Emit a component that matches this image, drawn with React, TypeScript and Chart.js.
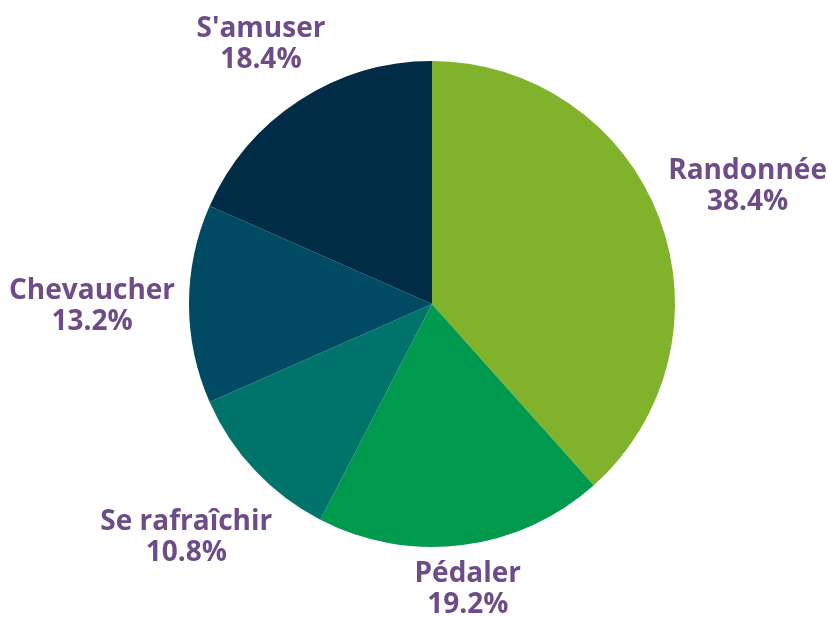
import React, { useEffect, useRef } from "react";
import { Chart, registerables } from "chart.js";

Chart.register(...registerables);

const categories = ["Randonnée", "Pédaler", "Se rafraîchir", "Chevaucher", "S'amuser"];
const values = [38.4, 19.2, 10.8, 13.2, 18.4];
const valueLabels = ["38.4%", "19.2%", "10.8%", "13.2%", "18.4%"];
const colors = ["#80B32B", "#009A4F", "#00746B", "#004B63", "#002D45"];
// label distance from centre as a multiple of the pie radius
const labelRadius = [1.39, 1.175, 1.387, 1.399, 1.288];

const labelPlugin = {
  id: "outerLabels",
  afterDraw(chart: any) {
    const ctx = chart.ctx;
    const meta = chart.getDatasetMeta(0);
    ctx.save();
    ctx.fillStyle = "#6D4C89";
    ctx.font = "bold 28px 'Open Sans'";
    ctx.textAlign = "center";
    ctx.textBaseline = "middle";
    meta.data.forEach((arc: any, i: number) => {
      const mid = (arc.startAngle + arc.endAngle) / 2;
      const r = arc.outerRadius * labelRadius[i];
      const x = arc.x + Math.cos(mid) * r;
      const y = arc.y + Math.sin(mid) * r;
      ctx.fillText(categories[i], x, y - 13);
      ctx.fillText(valueLabels[i], x, y + 18);
    });
    ctx.restore();
  },
};

export default function App() {
  const ref = useRef<HTMLCanvasElement>(null);
  useEffect(() => {
    const chart = new Chart(ref.current!, {
      type: "pie",
      data: {
        labels: categories,
        datasets: [
          {
            data: values,
            backgroundColor: colors,
            borderWidth: 0,
          },
        ],
      },
      options: {
        responsive: false,
        animation: false,
        layout: { padding: { top: 61, bottom: 70, left: 189, right: 153 } },
        plugins: {
          legend: { display: false },
          tooltip: { enabled: false },
        },
      },
      plugins: [labelPlugin],
    });
    return () => chart.destroy();
  }, []);
  return (
    <div style={{ position: "fixed", left: 0, top: 0, width: 828, height: 617, background: "#fff" }}>
      <canvas ref={ref} width={828} height={617} />
    </div>
  );
}
